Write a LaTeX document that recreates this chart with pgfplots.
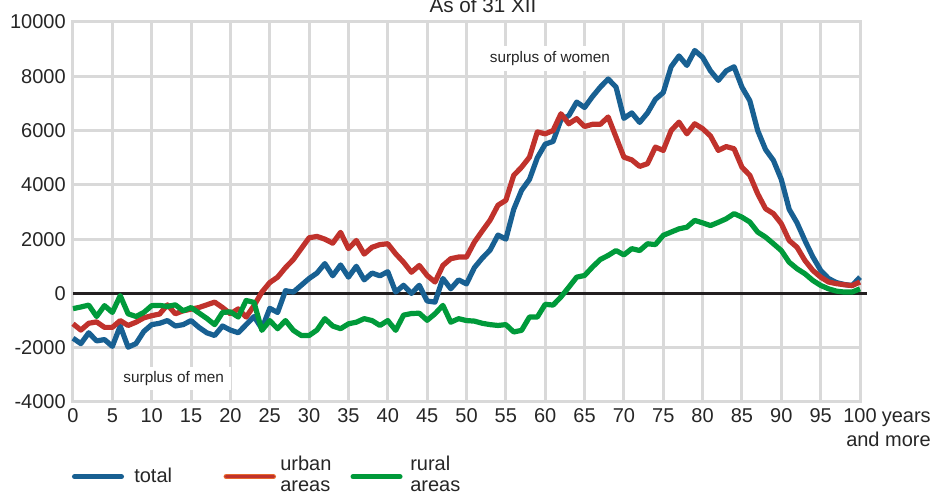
\documentclass[border=0pt]{standalone}
\usepackage{pgfplots}
\usepackage{pgfplotstable}
\pgfplotsset{compat=1.18}
\usepackage{fontspec}
\setmainfont{Liberation Sans}
\definecolor{cTotal}{RGB}{24,96,146}
\definecolor{cUrban}{RGB}{192,50,44}
\definecolor{cUrbanEdge}{RGB}{232,105,45}
\definecolor{cRural}{RGB}{0,154,58}
\definecolor{cGrid}{RGB}{217,217,217}
\definecolor{cZero}{RGB}{35,31,32}

\pgfplotstableread{
age total urban rural
0 -1650 -1120 -560
1 -1850 -1350 -500
2 -1450 -1100 -430
3 -1750 -1050 -850
4 -1700 -1250 -450
5 -1950 -1250 -700
6 -1200 -1000 -80
7 -1980 -1180 -750
8 -1850 -1060 -850
9 -1400 -900 -700
10 -1150 -820 -450
11 -1100 -760 -440
12 -1000 -420 -480
13 -1200 -750 -420
14 -1150 -640 -640
15 -1000 -580 -520
16 -1250 -520 -720
17 -1450 -420 -920
18 -1550 -320 -1150
19 -1200 -520 -700
20 -1350 -750 -680
21 -1450 -570 -870
22 -1150 -870 -260
23 -850 -450 -330
24 -1300 50 -1360
25 -550 400 -1000
26 -700 600 -1300
27 100 950 -1000
28 50 1250 -1360
29 300 1650 -1550
30 550 2050 -1550
31 750 2100 -1350
32 1100 2000 -930
33 650 1850 -1200
34 1050 2250 -1300
35 600 1650 -1120
36 1000 1950 -1060
37 500 1450 -930
38 750 1700 -1000
39 650 1800 -1180
40 800 1830 -1000
41 50 1460 -1360
42 300 1150 -800
43 0 780 -740
44 300 1030 -730
45 -280 660 -990
46 -320 420 -750
47 550 1030 -440
48 170 1280 -1060
49 500 1340 -930
50 350 1340 -1000
51 950 1890 -1020
52 1300 2300 -1100
53 1600 2700 -1150
54 2150 3250 -1180
55 2000 3430 -1150
56 3100 4350 -1420
57 3800 4650 -1360
58 4200 5020 -870
59 5000 5950 -870
60 5500 5880 -400
61 5600 6000 -430
62 6400 6620 -130
63 6550 6250 230
64 7050 6440 600
65 6850 6150 660
66 7250 6230 970
67 7600 6230 1250
68 7900 6500 1400
69 7600 5760 1580
70 6450 5020 1420
71 6650 4920 1650
72 6300 4680 1580
73 6650 4780 1830
74 7150 5390 1800
75 7400 5270 2140
76 8350 6000 2260
77 8750 6310 2380
78 8400 5880 2440
79 8950 6250 2690
80 8700 6070 2600
81 8200 5800 2500
82 7850 5270 2620
83 8200 5410 2750
84 8350 5330 2940
85 7600 4650 2810
86 7100 4350 2630
87 6000 3670 2260
88 5300 3120 2075
89 4900 2940 1830
90 4200 2570 1580
91 3100 1950 1150
92 2600 1700 910
93 1950 1215 725
94 1350 850 480
95 850 600 295
96 550 420 170
97 400 360 85
98 330 320 50
99 290 290 50
100 600 420 170
}\datatable

\begin{document}
\begin{tikzpicture}
\begin{axis}[
  at={(0,0)}, anchor=south west,
  scale only axis, width=590.25pt, height=285pt,
  xmin=0, xmax=100, ymin=-4000, ymax=10000,
  xtick={0,5,...,100},
  xticklabels={0,5,10,15,20,25,30,35,40,45,50,55,60,65,70,75,80,85,90,95,100},
  ytick={-4000,-2000,0,2000,4000,6000,8000,10000},
  yticklabels={-4000,-2000,0,2000,4000,6000,8000,10000},
  scaled y ticks=false, scaled x ticks=false,
  /pgf/number format/assume math mode=true,
  grid=major,
  major grid style={cGrid, line width=2.25pt},
  axis line style={cGrid, line width=2.25pt},
  major tick length=0pt,
  tick label style={font=\fontsize{15pt}{18pt}\selectfont, inner sep=0pt, text=black!85},
  xticklabel style={anchor=base, yshift=-15.75pt},
  yticklabel style={anchor=east, xshift=-5.25pt},
  clip=false,
]
\draw[cZero, line width=2.25pt] (axis cs:0,0) -- (axis cs:100.9,0);
\node[fill=white, inner xsep=6pt, inner ysep=4pt, font=\fontsize{11.5pt}{13pt}\selectfont, text=black!85] at (axis cs:60.6,8660) {surplus of women};
\node[fill=white, inner xsep=5.5pt, inner ysep=3.5pt, font=\fontsize{11.5pt}{13pt}\selectfont, text=black!85] at (axis cs:12.8,-3130) {surplus of men};
\addplot[cTotal, line width=3.9pt, line join=round, no markers] table[x=age, y=total] {\datatable};
\addplot[cUrban, line width=3.9pt, line join=round, no markers] table[x=age, y=urban] {\datatable};
\addplot[cRural, line width=3.9pt, line join=round, no markers] table[x=age, y=rural] {\datatable};
\end{axis}
% title
\node[anchor=base, inner sep=0pt, font=\fontsize{15.5pt}{18pt}\selectfont, text=black!85] at (307.5pt,292pt) {As of 31 XII};
% x-axis unit
\node[anchor=base east, inner sep=0pt, font=\fontsize{15pt}{18pt}\selectfont, text=black!85] at (643.5pt,-15.75pt) {years};
\node[anchor=base east, inner sep=0pt, font=\fontsize{15pt}{18pt}\selectfont, text=black!85] at (643.5pt,-33.75pt) {and more};
% legend
\draw[cTotal, line width=3.75pt, line cap=round] (1.1pt,-56pt) -- (36.4pt,-56pt);
\node[anchor=base west, inner sep=0pt, font=\fontsize{15pt}{18pt}\selectfont, text=black!85] at (45.75pt,-60.75pt) {total};
\draw[cUrbanEdge, line width=3.75pt, line cap=round] (114.8pt,-56pt) -- (150.4pt,-56pt);
\draw[cUrban, line width=2.4pt, line cap=round] (114.8pt,-56pt) -- (150.4pt,-56pt);
\node[anchor=base west, inner sep=0pt, font=\fontsize{15pt}{18pt}\selectfont, text=black!85] at (155.25pt,-51.5pt) {urban};
\node[anchor=base west, inner sep=0pt, font=\fontsize{15pt}{18pt}\selectfont, text=black!85] at (155.25pt,-67pt) {areas};
\draw[cRural, line width=3.75pt, line cap=round] (210pt,-56pt) -- (245.3pt,-56pt);
\node[anchor=base west, inner sep=0pt, font=\fontsize{15pt}{18pt}\selectfont, text=black!85] at (252.75pt,-51.5pt) {rural};
\node[anchor=base west, inner sep=0pt, font=\fontsize{15pt}{18pt}\selectfont, text=black!85] at (252.75pt,-67pt) {areas};
\pgfresetboundingbox
\useasboundingbox (-54.75pt,-69.75pt) rectangle (646.5pt,301.5pt);
\end{tikzpicture}
\end{document}
